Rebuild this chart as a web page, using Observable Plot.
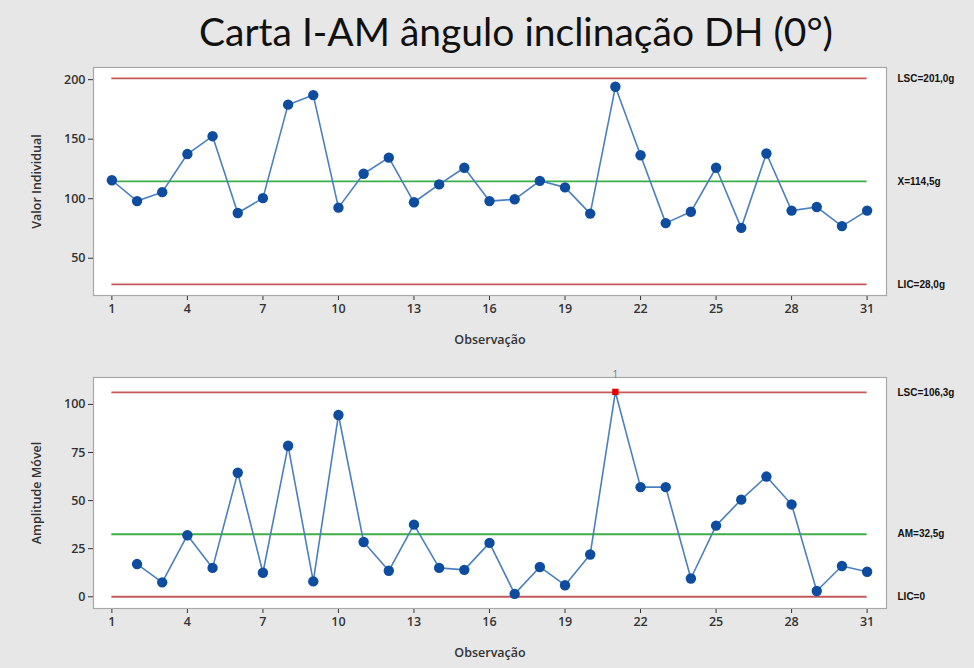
<!DOCTYPE html>
<html><head><meta charset="utf-8">
<script src="https://cdn.jsdelivr.net/npm/d3@7"></script>
<script src="https://cdn.jsdelivr.net/npm/@observablehq/plot@0.6"></script>
<style>
html,body{margin:0;padding:0;background:#e7e7e7;}
#wrap{position:relative;width:974px;height:668px;overflow:hidden;background:#e7e7e7;}
#title{position:absolute;top:6px;left:516px;transform:translateX(-50%);white-space:nowrap;font-family:Lato,sans-serif;font-size:39px;color:#111;line-height:50px;}
#top{position:absolute;left:0;top:60px;}
#bot{position:absolute;left:0;top:365px;}
svg{overflow:visible;}
</style></head><body>
<div id="wrap"><div id="title">Carta I-AM ângulo inclinação DH (0°)</div><div id="top"></div><div id="bot"></div></div>
<script>
// Observations (categories)
const observations = [1,2,3,4,5,6,7,8,9,10,11,12,13,14,15,16,17,18,19,20,21,22,23,24,25,26,27,28,29,30,31];
// Individual values (g)
const individualValues = [115.5,98,105.5,137.5,152.5,88,100.5,179,187,92.5,121,134.5,97,112,126,98,99.5,115,109.5,87.5,194,136.5,79.5,89,126,75.5,138,90,93,77,90];
// Moving range observations and values (g)
const mrObservations = [2,3,4,5,6,7,8,9,10,11,12,13,14,15,16,17,18,19,20,21,22,23,24,25,26,27,28,29,30,31];
const movingRangeValues = [17,7.5,32,15,64.5,12.5,78.5,8,94.5,28.5,13.5,37.5,15,14,28,1.5,15.5,6,22,106.5,57,57,9.5,37,50.5,62.5,48,3,16,13];
// Control limits
const iLimitValues = [201.0,114.5,28.0];
const iLimitLabels = ["LSC=201,0g","X=114,5g","LIC=28,0g"];
const mrLimitValues = [106.3,32.5,0];
const mrLimitLabels = ["LSC=106,3g","AM=32,5g","LIC=0"];
// Tick labels
const xTicks = [1,4,7,10,13,16,19,22,25,28,31];
const iTicks = [50,100,150,200];
const mrTicks = [0,25,50,75,100];

const RED = "#c4585a", GREEN = "#3fae49", LINE = "#4a7fc0", DOT = "#0d4c9f";

function panel({height, marginTop, marginBottom, yDomain, yTicks, yLabel, xs, ys, limits, labels, flagOut}) {
  const data = xs.map((x, i) => ({x, y: ys[i]}));
  const lim = limits.map((v, i) => ({value: v, label: labels[i]}));
  const ucl = limits[0];
  const normal = flagOut ? data.filter(d => d.y <= ucl) : data;
  const out = flagOut ? data.filter(d => d.y > ucl) : [];
  const first = observations[0], last = observations[observations.length - 1];
  return Plot.plot({
    width: 974, height, marginLeft: 93, marginRight: 88, marginTop, marginBottom,
    style: {background: "transparent", fontFamily: "'Open Sans', sans-serif", fontSize: "12.5px", fontWeight: 600, color: "#333"},
    x: {domain: [0.27, 31.77], ticks: xTicks, tickSize: 5, tickPadding: 4, label: "Observação", labelAnchor: "center", labelOffset: 48, labelArrow: "none"},
    y: {domain: yDomain, ticks: yTicks, tickSize: 5, tickPadding: 3, label: yLabel, labelAnchor: "center", labelOffset: 61, labelArrow: "none"},
    marks: [
      Plot.frame({fill: "white", stroke: "#a8a8a8", strokeWidth: 1.2}),
      Plot.ruleY([lim[0], lim[2]], {y: "value", x1: first, x2: last, stroke: RED, strokeWidth: 1.8}),
      Plot.ruleY([lim[1]], {y: "value", x1: first, x2: last, stroke: GREEN, strokeWidth: 1.8}),
      Plot.line(data, {x: "x", y: "y", stroke: LINE, strokeWidth: 1.6}),
      Plot.dot(normal, {x: "x", y: "y", r: 5.2, fill: DOT, stroke: "none"}),
      Plot.dot(out, {x: "x", y: "y", r: 3.6, symbol: "square", fill: "#e00000", stroke: "none"}),
      Plot.text(out, {x: "x", y: "y", text: () => "1", dy: -17, fill: "#777", fontSize: 10, fontWeight: 400}),
      Plot.text(lim, {y: "value", text: "label", frameAnchor: "right", dx: 11, textAnchor: "start", fontFamily: "'Liberation Sans', Arial, sans-serif", fontWeight: "bold", fontSize: 10, fill: "#111"})
    ]
  });
}

document.getElementById("top").append(panel({
  height: 305, marginTop: 7, marginBottom: 70,
  yDomain: [18.7, 210.2], yTicks: iTicks, yLabel: "Valor Individual",
  xs: observations, ys: individualValues, limits: iLimitValues, labels: iLimitLabels, flagOut: false
}));
document.getElementById("bot").append(panel({
  height: 303, marginTop: 12, marginBottom: 60,
  yDomain: [-6.1, 114], yTicks: mrTicks, yLabel: "Amplitude Móvel",
  xs: mrObservations, ys: movingRangeValues, limits: mrLimitValues, labels: mrLimitLabels, flagOut: true
}));
</script>
</body></html>
